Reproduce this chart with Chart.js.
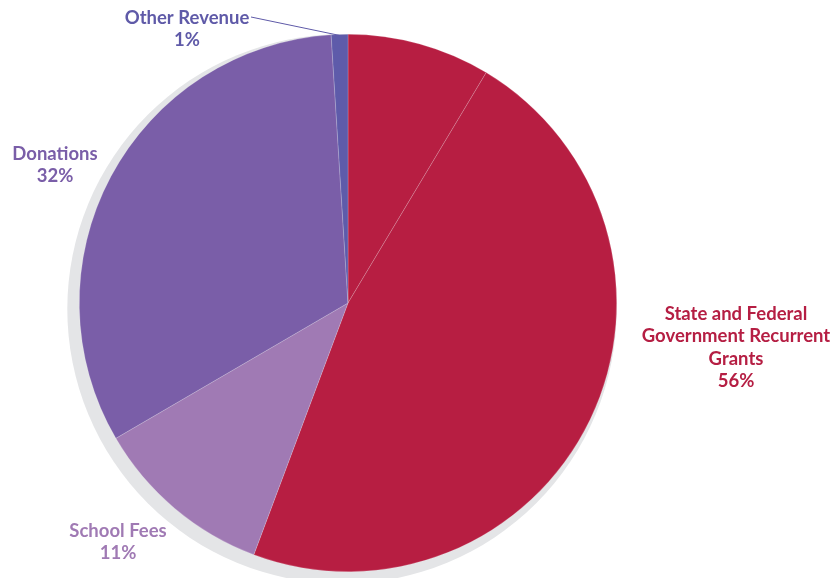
<!DOCTYPE html>
<html>
<head>
<meta charset="utf-8">
<script src="https://cdn.jsdelivr.net/npm/chart.js@4"></script>
<style>
html,body{margin:0;padding:0;background:#fff;}
#wrap{width:838px;height:578px;position:relative;}
</style>
</head>
<body>
<div id="wrap"><canvas id="c" width="838" height="578"></canvas></div>
<script>
// Categories and values (percent of revenue)
const categories = ['State and Federal Government Recurrent Grants', 'School Fees', 'Donations', 'Other Revenue'];
const percentLabels = ['56%', '11%', '32%', '1%'];
// Slices as drawn (the grants slice is drawn in two parts)
const sliceValues = [8.6, 47.1, 10.9, 32.4, 1.0];
const sliceCategory = [0, 0, 1, 2, 3];

const catColors = ['#B71E42', '#A07AB4', '#7A5EA8', '#5E5BAA'];
const labelColors = ['#B51E43', '#A07AB4', '#7A5EA8', '#5F5AA8'];

// label text positions (px) — layout only
const labelPos = [
  {x: 736, y: 314, lines: ['State and Federal', 'Government Recurrent', 'Grants']},
  {x: 118, y: 531, lines: ['School Fees']},
  {x: 55, y: 154, lines: ['Donations']},
  {x: 187, y: 18, lines: ['Other Revenue']}
];

const shadowPlugin = {
  id: 'shadow',
  beforeDatasetsDraw(chart) {
    const arc = chart.getDatasetMeta(0).data[0];
    if (!arc) return;
    const ctx = chart.ctx;
    ctx.save();
    ctx.fillStyle = '#E4E5E7';
    ctx.beginPath();
    ctx.arc(arc.x - 6, arc.y + 6, arc.outerRadius + 6, 0, Math.PI * 2);
    ctx.fill();
    ctx.restore();
  }
};

const labelPlugin = {
  id: 'labels',
  afterDatasetsDraw(chart) {
    const ctx = chart.ctx;
    ctx.save();
    ctx.font = 'bold 18.5px Lato, "Open Sans", sans-serif';
    ctx.textAlign = 'center';
    ctx.textBaseline = 'middle';
    const lh = 22.3;
    labelPos.forEach((p, i) => {
      ctx.fillStyle = labelColors[i];
      const lines = p.lines.concat([percentLabels[i]]);
      lines.forEach((t, k) => ctx.fillText(t, p.x, p.y + k * lh));
    });
    // leader line for Other Revenue
    const meta = chart.getDatasetMeta(0);
    const arc = meta.data[4];
    const mid = (arc.startAngle + arc.endAngle) / 2;
    const ex = arc.x + Math.cos(mid) * (arc.outerRadius - 1);
    const ey = arc.y + Math.sin(mid) * (arc.outerRadius - 1);
    ctx.strokeStyle = '#5F5AA8';
    ctx.lineWidth = 1;
    ctx.beginPath();
    ctx.moveTo(251, 17);
    ctx.lineTo(ex, ey);
    ctx.stroke();
    ctx.restore();
  }
};

new Chart(document.getElementById('c'), {
  type: 'pie',
  data: {
    labels: sliceCategory.map(i => categories[i]),
    datasets: [{
      data: sliceValues,
      backgroundColor: sliceCategory.map(i => catColors[i]),
      borderColor: 'rgba(255,255,255,0.3)',
      borderWidth: 0.6
    }]
  },
  options: {
    responsive: false,
    animation: false,
    layout: {padding: {left: 79, right: 221, top: 34, bottom: 6}},
    plugins: {legend: {display: false}, tooltip: {enabled: false}}
  },
  plugins: [shadowPlugin, labelPlugin]
});
</script>
</body>
</html>
